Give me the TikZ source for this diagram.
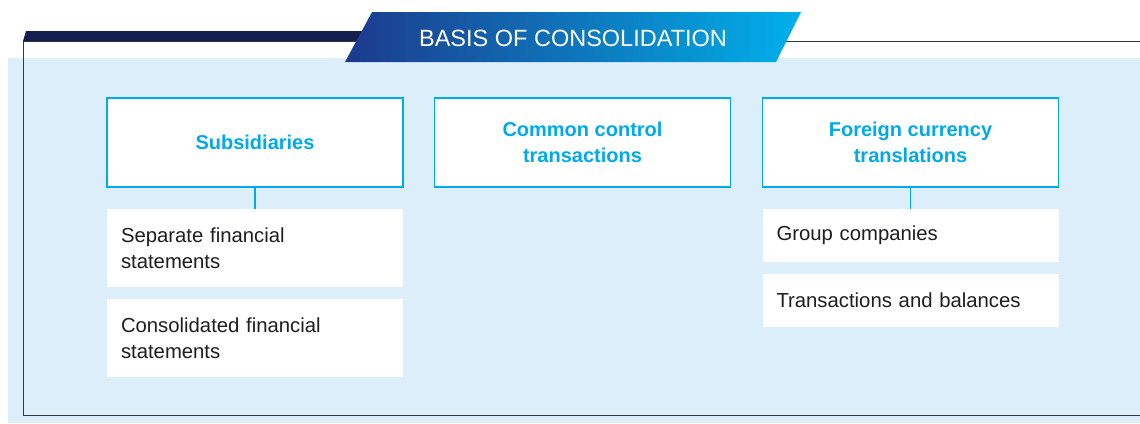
\documentclass[tikz,border=0pt]{standalone}
\usepackage{fontspec}
\setmainfont{Liberation Sans}
\usetikzlibrary{positioning}

\definecolor{skyline}{RGB}{0,170,234}
\definecolor{paleblue}{RGB}{221,238,251}
\definecolor{navyband}{RGB}{22,32,80}
\definecolor{bannerleft}{RGB}{28,58,140}
\definecolor{bannerright}{RGB}{0,176,234}
\definecolor{frameline}{RGB}{55,55,60}
\definecolor{bodytext}{RGB}{30,30,30}

\tikzset{
    headbox/.style={draw=skyline,line width=1.2pt,fill=white,text=skyline,
        minimum width=296pt,minimum height=89pt,align=center,
        font=\bfseries\fontsize{20}{26}\selectfont},
    itembox/.style={fill=white,text=bodytext,minimum width=296pt,
        text width=268pt,inner xsep=14pt,align=left,
        font=\fontsize{20.3}{26}\selectfont},
    link/.style={draw=skyline,line width=1.2pt},
    frame/.style={draw=frameline,line width=1pt}
}

\begin{document}
\begin{tikzpicture}[x=1pt,y=-1pt]
        \useasboundingbox (0,0) rectangle (1140,423);

        % Background and frame
        \fill[paleblue] (8,58) rectangle (1140,423);
        \draw[frame] (23,41.5) -- (1140,41.5);
        \draw[frame] (23,41.5) -- (23,415) -- (1140,415);
        \fill[navyband] (26,31) -- (380,31) -- (380,41) -- (23,41) -- cycle;

        % Banner
        \shade[left color=bannerleft,right color=bannerright]
            (372,12) -- (801,12) -- (776,62) -- (345,62) -- cycle;
        \node[text=white,font=\fontsize{23.5}{26}\selectfont] (title) at (573,38.5) {BASIS OF CONSOLIDATION};

        % Headings
        \node[headbox] (sub) at (255,142.5) {Subsidiaries};
        \node[headbox] (ctrl) at (582.5,142.5) {Common control\\transactions};
        \node[headbox] (forex) at (910.5,142.5) {Foreign currency\\translations};

        % Items
        \node[itembox,minimum height=78pt,below=21pt of sub] (sep) {Separate financial\\statements};
        \node[itembox,minimum height=78pt,below=12pt of sep] (cons) {Consolidated financial\\statements};
        \node[itembox,minimum height=53pt,below=21pt of forex] (grp) {Group companies};
        \node[itembox,minimum height=53pt,below=12pt of grp] (trans) {Transactions and balances};

        % Links
        \foreach \u/\v in {sub/sep, forex/grp} {
            \draw[link] (\u) -- (\v);
        }
    \end{tikzpicture}
\end{document}
